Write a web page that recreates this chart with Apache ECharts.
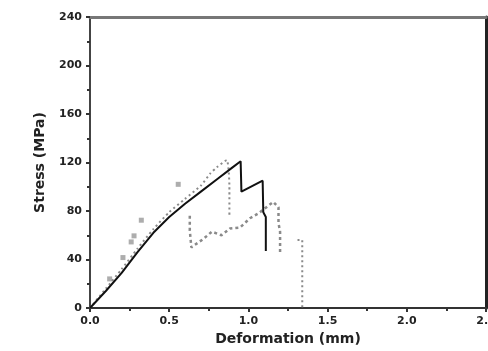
<!DOCTYPE html>
<html><head><meta charset="utf-8">
<script src="https://cdn.jsdelivr.net/npm/echarts@6/dist/echarts.min.js"></script>
<style>html,body{margin:0;padding:0;background:#fff}#c{width:488px;height:351px}</style>
</head><body><div id="c"></div>
<script>
// Deformation (mm), Stress (MPa)
var sampleSolid = [[0,0],[0.1,14],[0.2,29],[0.3,46],[0.4,62],[0.5,75],[0.6,86],[0.7,96],[0.8,106],[0.9,116],[0.951,121],[0.956,96],[1.09,105],[1.094,79],[1.11,75],[1.11,47]];
var sampleDottedA = [[0,0],[0.1,16],[0.2,32],[0.3,49],[0.4,65],[0.5,79],[0.6,90],[0.7,101],[0.76,111],[0.8,116],[0.863,122],[0.88,100],[0.88,75]];
var sampleDottedA2 = [[1.31,56],[1.34,56],[1.34,0]];
var sampleDottedBPoints = [[0.124,24],[0.208,41.6],[0.26,54.5],[0.278,59.5],[0.324,72.4],[0.557,102]];
var sampleDottedB = [[0.63,76],[0.63,64],[0.64,50],[0.716,57],[0.77,63],[0.83,60],[0.884,65.6],[0.947,66.4],[1.01,74],[1.063,78],[1.157,87.5],[1.19,83],[1.19,70],[1.2,63],[1.2,46]];
var xTicks = ['0.0','0.5','1.0','1.5','2.0','2.5'];
var yTicks = [0,40,80,120,160,200,240];

var chart = echarts.init(document.getElementById('c'), null, {renderer:'canvas'});
var lab = {color:'#222', fontWeight:'bold', fontFamily:'DejaVu Sans', fontSize:11};
var nameStyle = {color:'#222', fontWeight:'bold', fontFamily:'DejaVu Sans', fontSize:14};
var gray = '#8a8a8a';
chart.setOption({
  animation:false,
  grid:{left:90, right:2, top:17, bottom:43, outerBoundsMode:'none', containLabel:false},
  xAxis:[{type:'value', min:0, max:2.5, interval:0.5,
    name:'Deformation (mm)', nameLocation:'middle', nameGap:19,
    nameTextStyle:nameStyle,
    axisLine:{show:true, onZero:false, lineStyle:{color:'#333', width:2}},
    axisTick:{show:true, length:4, inside:false, lineStyle:{color:'#333', width:2}},
    minorTick:{show:true, splitNumber:2, length:3, lineStyle:{color:'#333', width:2}},
    splitLine:{show:false},
    axisLabel:Object.assign({margin:8, hideOverlap:false, showMaxLabel:true, formatter:function(v){return xTicks[Math.round(v/0.5)];}}, lab)
  },{type:'value', position:'top', min:0, max:2.5, interval:0.5,
    axisLine:{show:true, onZero:false, lineStyle:{color:'#777', width:3}},
    axisTick:{show:false}, axisLabel:{show:false}, splitLine:{show:false}}],
  yAxis:[{type:'value', min:0, max:240, interval:40,
    name:'Stress (MPa)', nameLocation:'middle', nameGap:43, nameRotate:90,
    nameTextStyle:nameStyle,
    axisLine:{show:true, onZero:false, lineStyle:{color:'#444', width:2}},
    axisTick:{show:true, length:4, lineStyle:{color:'#333', width:2}},
    minorTick:{show:true, splitNumber:2, length:3, lineStyle:{color:'#333', width:2}},
    splitLine:{show:false},
    axisLabel:Object.assign({margin:8, formatter:function(v){return String(yTicks[Math.round(v/40)]);}}, lab)
  },{type:'value', position:'right', min:0, max:240, interval:40,
    axisLine:{show:true, onZero:false, lineStyle:{color:'#222', width:3}},
    axisTick:{show:false}, axisLabel:{show:false}, splitLine:{show:false}}],
  series:[
    {type:'line', data:sampleDottedA, symbol:'none', smooth:0.2, lineStyle:{color:gray, width:2, type:[2,3]}},
    {type:'line', data:sampleDottedA2, symbol:'none', lineStyle:{color:gray, width:2, type:[2,3]}},
    {type:'line', data:sampleDottedB, symbol:'none', lineStyle:{color:gray, width:2.5, type:[3,3]}},
    {type:'scatter', data:sampleDottedBPoints, symbol:'rect', symbolSize:5, itemStyle:{color:'#999'}},
    {type:'line', data:sampleSolid, symbol:'none', lineStyle:{color:'#111', width:2}}
  ]
});
</script></body></html>
